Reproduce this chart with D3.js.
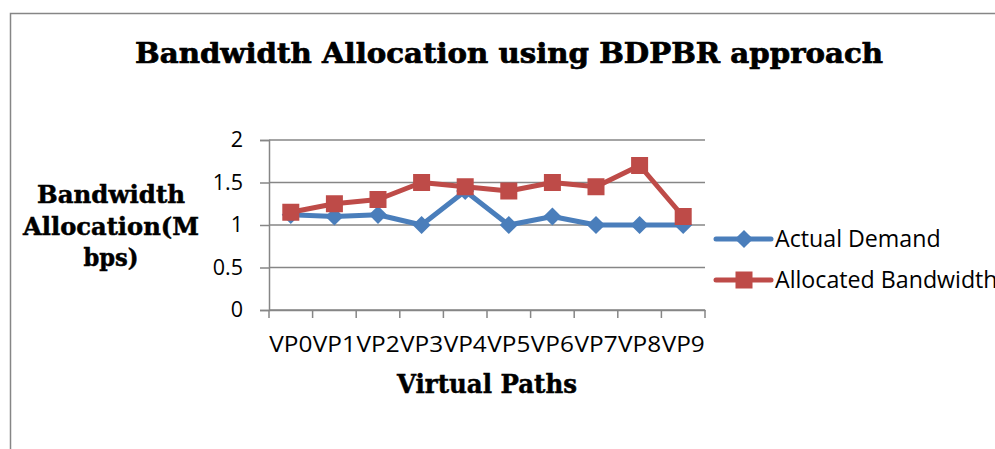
<!DOCTYPE html>
<html>
<head>
<meta charset="utf-8">
<script src="https://cdn.jsdelivr.net/npm/d3@7"></script>
<style>
  body { margin: 0; background: #fff; }
  svg { display: block; }
</style>
</head>
<body>
<div id="chart"></div>
<script>
const categories = ['VP0', 'VP1', 'VP2', 'VP3', 'VP4', 'VP5', 'VP6', 'VP7', 'VP8', 'VP9'];
const actualDemand = [1.12, 1.1, 1.12, 1.0, 1.4, 1.0, 1.1, 1.0, 1.0, 1.0];
const allocatedBandwidth = [1.15, 1.25, 1.3, 1.5, 1.45, 1.4, 1.5, 1.45, 1.7, 1.1];
const yTicks = [0, 0.5, 1, 1.5, 2];
const seriesNames = ['Actual Demand', 'Allocated Bandwidth'];

const width = 995;
const height = 449;
const blue = '#4a7ebb';
const red = '#be4b48';
const grid = '#868686';
const sans = "'Open Sans', 'Liberation Sans', sans-serif";
const serif = "'DejaVu Serif', 'Liberation Serif', serif";

const plot = { left: 269, right: 705, top: 140, bottom: 310 };

const svg = d3.select('#chart').append('svg')
  .attr('width', width)
  .attr('height', height);

// outer frame
svg.append('rect')
  .attr('x', 10.5).attr('y', 13.5)
  .attr('width', 1000).attr('height', 500)
  .attr('fill', 'none').attr('stroke', grid).attr('stroke-width', 1.5);

const xScale = d3.scaleBand().domain(categories).range([plot.left, plot.right]);
const yScale = d3.scaleLinear().domain([0, 2]).range([plot.bottom, plot.top]);

// gridlines
svg.append('g')
  .selectAll('line')
  .data(yTicks)
  .join('line')
  .attr('x1', plot.left).attr('x2', plot.right)
  .attr('y1', d => yScale(d)).attr('y2', d => yScale(d))
  .attr('stroke', grid).attr('stroke-width', 1.5);

// y axis
const yAxis = svg.append('g')
  .attr('transform', `translate(${plot.left},0)`)
  .call(d3.axisLeft(yScale).tickValues(yTicks).tickSize(9).tickPadding(17).tickFormat(d3.format('')));
yAxis.select('.domain').attr('stroke', grid).attr('stroke-width', 1.5);
yAxis.selectAll('.tick line').attr('stroke', grid).attr('stroke-width', 1.5);
yAxis.selectAll('text').attr('font-family', sans).attr('font-size', 21.5).attr('fill', '#000');

// x axis
const xAxis = svg.append('g')
  .attr('transform', `translate(0,${plot.bottom})`)
  .call(d3.axisBottom(xScale).tickSize(0).tickPadding(27));
xAxis.select('.domain').attr('stroke', grid).attr('stroke-width', 1.5);
xAxis.selectAll('text').attr('font-family', sans).attr('font-size', 21.5).attr('fill', '#000')
  .attr('textLength', xScale.bandwidth() - 0.5).attr('lengthAdjust', 'spacingAndGlyphs');

// x tick marks at category boundaries
const bounds = categories.map(c => xScale(c)).concat([plot.right]);
svg.append('g')
  .selectAll('line')
  .data(bounds)
  .join('line')
  .attr('x1', d => d).attr('x2', d => d)
  .attr('y1', plot.bottom).attr('y2', plot.bottom + 8)
  .attr('stroke', grid).attr('stroke-width', 1.5);

const cx = (d, i) => xScale(categories[i]) + xScale.bandwidth() / 2;
const line = d3.line().x(cx).y(d => yScale(d));

// Actual demand series
svg.append('path')
  .datum(actualDemand)
  .attr('d', line)
  .attr('fill', 'none').attr('stroke', blue).attr('stroke-width', 5)
  .attr('stroke-linejoin', 'round');

svg.append('g')
  .selectAll('path')
  .data(actualDemand)
  .join('path')
  .attr('d', d3.symbol(d3.symbolDiamond2, 210))
  .attr('transform', (d, i) => `translate(${cx(d, i)},${yScale(d)})`)
  .attr('fill', blue);

// Allocated series
svg.append('path')
  .datum(allocatedBandwidth)
  .attr('d', line)
  .attr('fill', 'none').attr('stroke', red).attr('stroke-width', 5)
  .attr('stroke-linejoin', 'round');

svg.append('g')
  .selectAll('rect')
  .data(allocatedBandwidth)
  .join('rect')
  .attr('x', (d, i) => cx(d, i) - 8.5)
  .attr('y', d => yScale(d) - 8.5)
  .attr('width', 17).attr('height', 17)
  .attr('fill', red);

// legend
const legend = svg.append('g');
const legendY = [239, 280];
const legendColors = [blue, red];
seriesNames.forEach((name, i) => {
  const g = legend.append('g').attr('transform', `translate(716,${legendY[i]})`);
  g.append('line').attr('x1', 0).attr('x2', 55).attr('y1', 0).attr('y2', 0)
    .attr('stroke', legendColors[i]).attr('stroke-width', 5).attr('stroke-linecap', 'round');
  if (i === 0) {
    g.append('path').attr('d', d3.symbol(d3.symbolDiamond2, 210)).attr('transform', 'translate(28,0)').attr('fill', blue);
  } else {
    g.append('rect').attr('x', 19.5).attr('y', -8.5).attr('width', 17).attr('height', 17).attr('fill', red);
  }
  g.append('text').attr('x', 59).attr('y', 8)
    .attr('font-family', sans).attr('font-size', 23.2).attr('fill', '#000')
    .text(name);
});

// title
svg.append('text')
  .attr('x', 509).attr('y', 63)
  .attr('text-anchor', 'middle')
  .attr('font-family', serif).attr('font-weight', 'bold').attr('font-size', 28)
  .attr('stroke', '#000').attr('stroke-width', 0.7)
  .attr('textLength', 748).attr('lengthAdjust', 'spacingAndGlyphs')
  .text('Bandwidth Allocation using BDPBR approach');

// y axis title
const yTitleLines = ['Bandwidth', 'Allocation(M', 'bps)'];
const yTitleWidths = [148, 176, 55];
svg.append('g')
  .selectAll('text')
  .data(yTitleLines)
  .join('text')
  .attr('x', 111)
  .attr('y', (d, i) => 203 + i * 31.5)
  .attr('text-anchor', 'middle')
  .attr('font-family', serif).attr('font-weight', 'bold').attr('font-size', 24)
  .attr('stroke', '#000').attr('stroke-width', 0.5)
  .attr('textLength', (d, i) => yTitleWidths[i]).attr('lengthAdjust', 'spacingAndGlyphs')
  .text(d => d);

// x axis title
svg.append('text')
  .attr('x', 487).attr('y', 393)
  .attr('text-anchor', 'middle')
  .attr('font-family', serif).attr('font-weight', 'bold').attr('font-size', 26)
  .attr('stroke', '#000').attr('stroke-width', 0.5)
  .attr('textLength', 180).attr('lengthAdjust', 'spacingAndGlyphs')
  .text('Virtual Paths');
</script>
</body>
</html>
